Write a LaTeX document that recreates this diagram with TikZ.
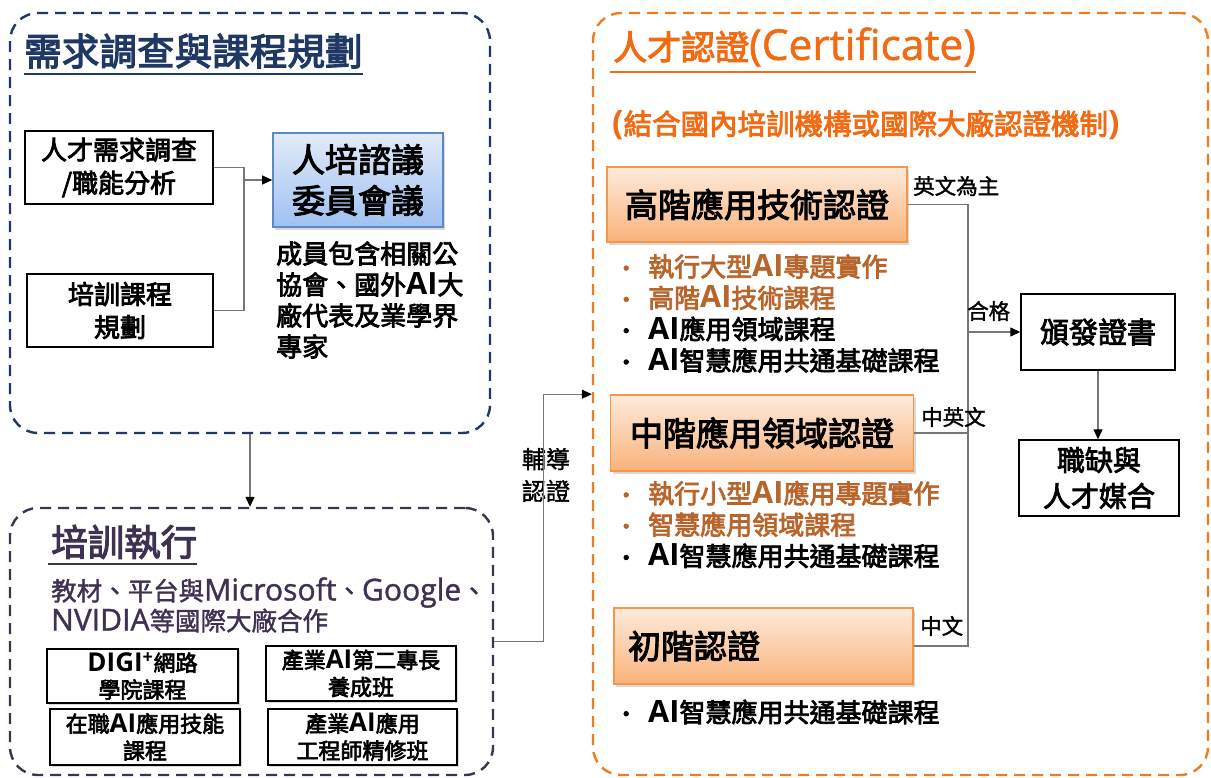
\documentclass[tikz,border=0pt]{standalone}
\usepackage{fontspec}
\setmainfont{Noto Sans CJK TC}[BoldFont={Noto Sans CJK TC}, BoldFeatures={FakeBold=3}]
\newfontfamily\medf{Noto Sans CJK TC}[FakeBold=1.5]
\newfontfamily\latf{Open Sans}[Scale=1.18, UprightFeatures={FakeBold=1.2}]
\usetikzlibrary{arrows.meta,shadows}
\definecolor{navy}{HTML}{1F3864}
\definecolor{purp}{HTML}{3F3151}
\definecolor{orgline}{HTML}{EE7D22}
\definecolor{orgtext}{HTML}{F26A12}
\definecolor{brownt}{HTML}{B8652C}
\definecolor{conn}{HTML}{777777}
\definecolor{otop}{HTML}{FDEBDC}
\definecolor{obot}{HTML}{F9B27A}
\definecolor{oedge}{HTML}{F79646}
\definecolor{btop}{HTML}{E2EBF8}
\definecolor{bbot}{HTML}{9FC1F2}
\definecolor{bedge}{HTML}{5A8AC6}
\newcommand\LA[1]{{\latf #1}}
\newcommand\fs[2]{\fontsize{#1}{#2}\selectfont}
\newcommand\bu{\makebox[44pt][c]{\fs{22}{26}•}}
\begin{document}
\begin{tikzpicture}[x=1pt,y=-1pt,
  frame/.style={draw, dash pattern=on 11pt off 7pt, line width=2.4pt, rounded corners=28pt, inner sep=0},
  plainbox/.style={draw=black, line width=1.4pt, align=center, inner sep=0, font=\bfseries\fs{26}{33}},
  sbox/.style={draw=black, line width=1.4pt, align=center, inner sep=0, fill=white, font=\bfseries\fs{22}{27},
     drop shadow={shadow xshift=2pt, shadow yshift=-2pt, opacity=0.3}},
  obox/.style={draw=oedge, line width=1.6pt, top color=otop, bottom color=obot, inner sep=0,
     drop shadow={shadow xshift=2pt, shadow yshift=-3pt, opacity=0.3}},
  bbox/.style={draw=bedge, line width=1.6pt, top color=btop, bottom color=bbot, inner sep=0, align=center,
     drop shadow={shadow xshift=2pt, shadow yshift=-3pt, opacity=0.3}},
  conline/.style={draw=conn, line width=1.2pt},
  arr/.style={-{Triangle[length=10pt,width=9pt,color=black]}},
  lbl/.style={inner sep=0, font=\medf\fs{21.5}{24}},
  blist/.style={anchor=west, align=left, inner sep=0, font=\bfseries\fs{26}{31.3}}
]
\useasboundingbox (0,0) rectangle (1211,778);
\fill[white] (0,0) rectangle (1211,778);

% ---------- frames ----------
\node[frame, draw=navy, minimum width=480pt, minimum height=420pt] (frA) at (250,223) {};
\node[frame, draw=purp, minimum width=483pt, minimum height=267pt] (frB) at (251.5,641.5) {};
\node[frame, draw=orgline, minimum width=615pt, minimum height=762pt] (frC) at (900.5,394) {};

% ---------- block A ----------
\node[anchor=west, inner sep=0, text=navy, font=\bfseries\fs{37.6}{40}] (tA) at (24,51) {需求調查與課程規劃};
\draw[navy, line width=1.8pt] ([yshift=-5pt]tA.south west) -- ([yshift=-5pt]tA.south east);

\node[plainbox, minimum width=188pt, minimum height=73pt] (a1) at (119,167.5) {人才需求調查\\/職能分析};
\node[plainbox, minimum width=186pt, minimum height=73pt] (a2) at (120,310.5) {培訓課程\\規劃};
\node[bbox, minimum width=170pt, minimum height=94pt, font=\bfseries\fs{33}{41}] (a3) at (358,180) {人培諮議\\委員會議};
\coordinate (jA) at (244,180);
\draw[conline] (a1.east) -| (jA);
\draw[conline] (a2.east) -| (jA);
\draw[conline, arr] (jA) -- (a3.west);

\node[anchor=west, align=left, inner sep=0, font=\bfseries\fs{26}{31}] (mem) at (276,300)
  {成員包含相關公\\協會、國外\LA{AI}大\\廠代表及業學界\\專家};

\draw[conline, arr] (frA.south) -- (frA.south |- frB.north);

% ---------- block B ----------
\node[anchor=west, inner sep=0, text=purp, font=\bfseries\fs{36.5}{40}] (tB) at (51,542) {培訓執行};
\draw[purp, line width=1.8pt] ([yshift=-5pt,xshift=-3pt]tB.south west) -- ([yshift=-5pt]tB.south east);
\node[anchor=west, align=left, inner sep=0, text=purp, font=\medf\fs{25.5}{30}] (sB) at (51,605)
  {教材、平台與\LA{Microsoft}、\LA{Google}、\\\LA{NVIDIA}等國際大廠合作};

\node[sbox, minimum width=191pt, minimum height=54pt] (b1) at (142.5,676) {\LA{DIGI\textsuperscript{+}}網路\\學院課程};
\node[sbox, minimum width=190pt, minimum height=55pt] (b2) at (361,673.5) {產業\LA{AI}第二專長\\養成班};
\node[sbox, minimum width=190pt, minimum height=56pt] (b3) at (145,737) {在職\LA{AI}應用技能\\課程};
\node[sbox, minimum width=189pt, minimum height=56pt] (b4) at (362.5,737) {產業\LA{AI}應用\\工程師精修班};

\node[inner sep=0, align=center, font=\medf\fs{24}{32}] (lg) at (546,475) {輔導\\認證};

% ---------- block C ----------
\node[anchor=west, inner sep=0, text=orgtext, font=\bfseries\fs{34}{38}] (tC) at (613,47) {人才認證\LA{\mdseries\fs{36}{38}(Certificate)}};
\draw[orgtext, line width=1.8pt] ([yshift=-5pt,xshift=-3pt]tC.south west) -- ([yshift=-5pt]tC.south east);
\node[anchor=west, inner sep=0, text=orgtext, font=\bfseries\fs{28.5}{32}] (sC) at (612,125)
  {\LA{(}結合國內培訓機構或國際大廠認證機制\LA{)}};

\node[obox, minimum width=300pt, minimum height=75pt, font=\bfseries\fs{33}{36}] (c1) at (757,204.5) {高階應用技術認證};
\node[obox, minimum width=303pt, minimum height=76pt, font=\bfseries\fs{33}{36}] (c2) at (762,433) {中階應用領域認證};
\node[obox, text width=271pt, inner xsep=14pt, align=left, minimum height=76pt, font=\bfseries\fs{33}{36}] (c3) at (763.5,646) {初階認證};

\node[blist] (l1) at (604,313.5) {%
  \textcolor{brownt}{\bu 執行大型\LA{AI}專題實作}\\
  \textcolor{brownt}{\bu 高階\LA{AI}技術課程}\\
  \bu\LA{AI}應用領域課程\\
  \bu\LA{AI}智慧應用共通基礎課程};
\node[blist] (l2) at (604,524.5) {%
  \textcolor{brownt}{\bu 執行小型\LA{AI}應用專題實作}\\
  \textcolor{brownt}{\bu 智慧應用領域課程}\\
  \bu\LA{AI}智慧應用共通基礎課程};
\node[blist] (l3) at (604,712) {\bu\LA{AI}智慧應用共通基礎課程};

\node[plainbox, minimum width=154pt, minimum height=76pt, font=\bfseries\fs{29}{32}] (d1) at (1098,332) {頒發證書};
\node[plainbox, minimum width=160pt, minimum height=76pt, font=\bfseries\fs{28}{36}] (d2) at (1099,478) {職缺與\\人才媒合};

\coordinate (jC) at (968,332);
\draw[conline] (c1.east) -| (jC);
\draw[conline] (c3.east) -| (jC);
\draw[conline] (c2.east) -- (c2.east -| jC);
\draw[conline, arr] (jC) -- (d1.west);
\draw[conline, arr] (d1.south) -- (d1.south |- d2.north);

\node[lbl, anchor=west] (x1) at (913,186) {英文為主};
\node[lbl, anchor=west] (x2) at (921,417) {中英文};
\node[lbl, anchor=west] (x3) at (920,626) {中文};
\node[lbl, anchor=west] (x4) at (967,311) {合格};

\draw[conline, arr] (frB.east) -- ++(49,0) |- (frC.west |- c2.north);
\end{tikzpicture}
\end{document}
